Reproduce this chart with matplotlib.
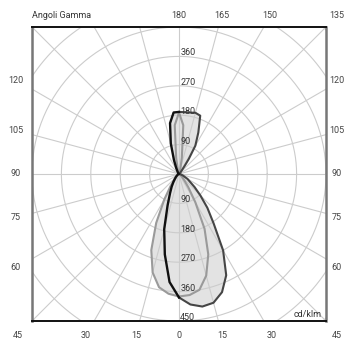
import numpy as np
import matplotlib
matplotlib.use("Agg")
import matplotlib.pyplot as plt

plt.rcParams['font.family'] = ['Roboto', 'DejaVu Sans']

# gamma angles (deg) and intensities (cd/klm)
gamma = [0, 5, 10, 15, 20, 25, 30, 35, 40, 45, 50, 60, 70, 80, 90,
         100, 110, 120, 130, 140, 145, 147, 150, 155, 160, 165, 170, 175, 180]
i_c0 = [378, 401, 412, 408, 385, 342, 270, 185, 135, 92, 62, 30, 12, 4, 0,
        0, 0, 1, 3, 10, 30, 55, 100, 140, 190, 194, 191, 190, 190]
i_c180 = [378, 332, 250, 175, 102, 65, 45, 30, 20, 14, 10, 5, 2, 1, 0,
          0, 0, 1, 2, 3, 5, 7, 10, 20, 45, 97, 158, 189, 190]
i_c90 = [375, 372, 360, 322, 262, 185, 100, 50, 25, 14, 8, 3, 1, 0, 0,
         0, 0, 0, 0, 0, 0, 0, 0, 2, 5, 15, 50, 150, 188]
i_c270 = [375, 368, 352, 312, 248, 165, 90, 45, 22, 12, 7, 3, 1, 0, 0,
          0, 0, 0, 0, 0, 0, 0, 0, 2, 5, 15, 50, 150, 188]

ring_values = [90, 180, 270, 360, 450]
rmax = 450
top_labels = [180, 165, 150, 135]
side_labels = [120, 105, 90, 75, 60]
bottom_labels = [45, 30, 15, 0, 15, 30, 45]


def to_xy(g, vals, side):
    g = np.radians(np.array(g, dtype=float))
    v = np.array(vals, dtype=float)
    return side * v * np.sin(g), -v * np.cos(g)


fig = plt.figure(figsize=(3.46, 3.41), dpi=100)
ax = fig.add_axes([32 / 346, 20 / 341, 294 / 346, 294 / 341])
ax.set_xlim(-rmax, rmax)
ax.set_ylim(-rmax, rmax)
ax.set_xticks([])
ax.set_yticks([])

# grid: rings every 90 and rays every 15 degrees
t = np.linspace(0, 2 * np.pi, 400)
for r in range(90, 700, 90):
    ax.plot(r * np.cos(t), r * np.sin(t), color='#cccccc', lw=0.8, zorder=2)
for a in range(0, 360, 15):
    ar = np.radians(a)
    ax.plot([0, 800 * np.cos(ar)], [0, 800 * np.sin(ar)], color='#cccccc', lw=0.8, zorder=2)

# planes
x0, y0 = to_xy(gamma, i_c0, 1)
x180, y180 = to_xy(gamma, i_c180, -1)
x90, y90 = to_xy(gamma, i_c90, 1)
x270, y270 = to_xy(gamma, i_c270, -1)

ax.fill(np.concatenate([x0, x180[::-1]]), np.concatenate([y0, y180[::-1]]),
        color='#e3e3e3', lw=0, zorder=1)
ax.fill(np.concatenate([x90, x270[::-1]]), np.concatenate([y90, y270[::-1]]),
        color='#e3e3e3', lw=0, zorder=1)

ax.plot(x90, y90, color='#9a9a9a', lw=1.5, zorder=3, solid_joinstyle='round')
ax.plot(x270, y270, color='#9a9a9a', lw=1.5, zorder=3, solid_joinstyle='round')
ax.plot(x0, y0, color='#454545', lw=1.5, zorder=4, solid_joinstyle='round')
ax.plot(x180, y180, color='#111111', lw=1.7, zorder=4, solid_joinstyle='round')

# radial value labels
for v in ring_values:
    ax.text(4, -v + 11, str(v), fontsize=6.5, color='#333333', ha='left', va='center', zorder=5)
    if v < rmax:
        ax.text(4, v + 11, str(v), fontsize=6.5, color='#333333', ha='left', va='center', zorder=5)

# angle labels around the box
lab = dict(fontsize=6.5, color='#444444', ha='center', va='center', clip_on=False)
ytop, ybot, xside = 484, -493, 495
xright = 482
for k, v in enumerate(top_labels):
    ax.text(min(ytop * np.tan(np.radians(15 * k)), xright), ytop, str(v), **lab)
for v in side_labels:
    yy = xside * np.tan(np.radians(v - 90))
    ax.text(-xside - 4, yy, str(v), **lab)
    ax.text(xright, yy, str(v), **lab)
for k, v in enumerate(bottom_labels):
    ang = 15 * (k - 3)
    xx = -ybot * np.tan(np.radians(ang))
    ax.text(max(min(xx, xright), -xside - 4), ybot, str(v), **lab)

ax.text(-450, ytop, 'Angoli Gamma', fontsize=6.5, color='#333333', ha='left', va='center', clip_on=False)
ax.text(438, -430, 'cd/klm', fontsize=6.5, color='#333333', ha='right', va='center', zorder=5)

for s in ['top', 'bottom']:
    ax.spines[s].set_color('#111111')
    ax.spines[s].set_linewidth(1.4)
for s in ['left', 'right']:
    ax.spines[s].set_color('#777777')
    ax.spines[s].set_linewidth(1.8)
for s in ax.spines.values():
    s.set_zorder(6)

fig.savefig('out.png', dpi=100)
